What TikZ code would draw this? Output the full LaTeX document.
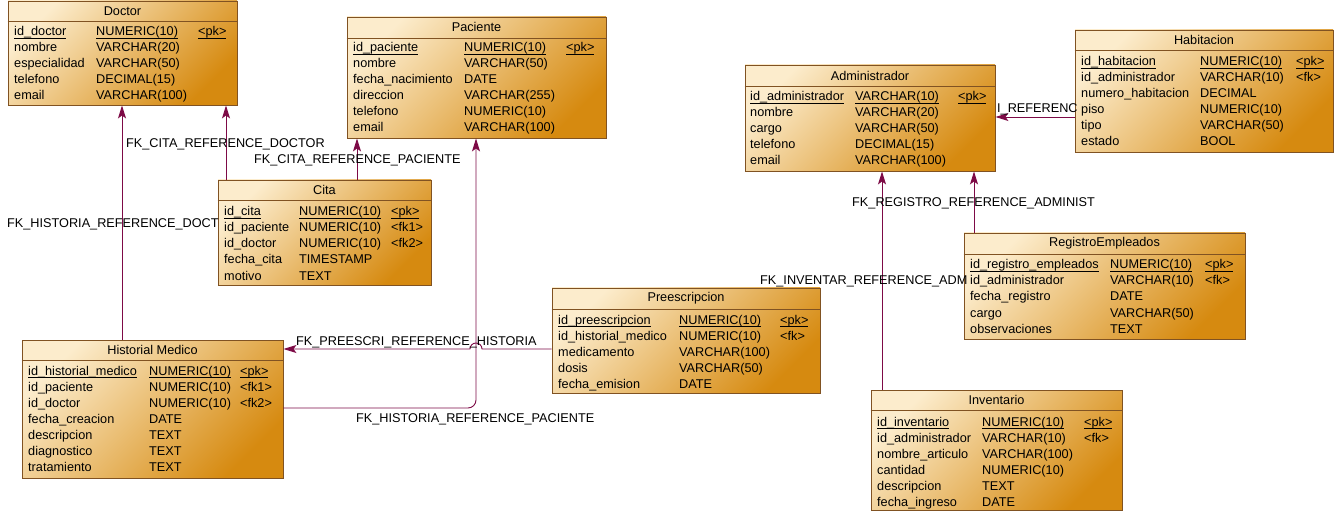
\documentclass[tikz,border=0pt]{standalone}
\usepackage{fontspec}
\setmainfont{Liberation Sans}
\usetikzlibrary{arrows.meta}

\definecolor{borde}{RGB}{128,82,34}
\definecolor{claro}{RGB}{252,236,204}
\definecolor{oscuro}{RGB}{214,138,16}
\definecolor{relacion}{RGB}{125,10,70}
\newcommand{\letra}{\fontsize{12.7}{15}\selectfont}
\newcommand{\subr}[1]{\setbox0=\hbox{#1}\rlap{\vrule width \wd0 height -1.6pt depth 2.5pt}\box0}

\tikzset{
  tabla/.style={draw=borde, line width=0.9pt, top color=claro, bottom color=oscuro, shading angle=45, inner sep=0pt},
  titulo/.style={inner sep=0pt, font=\letra},
  campo/.style={anchor=base west, inner sep=0pt, font=\letra},
  etiqueta/.style={anchor=base west, inner sep=0pt, font=\letra},
  fk/.style={draw=relacion, line width=0.9pt, -{Stealth[length=13pt,width=8pt,inset=3pt]}}
}

\begin{document}
\begin{tikzpicture}[x=1pt,y=-1pt]
    \useasboundingbox (0,0) rectangle (1334,513);

    % Draw the tables as shaded boxes
    \node[tabla, minimum width=229, minimum height=104] (doctor) at (122.5,53) {};
    \node[tabla, minimum width=259, minimum height=121] (paciente) at (476.5,77.5) {};
    \node[tabla, minimum width=213, minimum height=105] (cita) at (324.5,232.5) {};
    \node[tabla, minimum width=261, minimum height=138] (historial) at (152.5,409) {};
    \node[tabla, minimum width=268, minimum height=105] (preescripcion) at (686,340.5) {};
    \node[tabla, minimum width=250, minimum height=106] (administrador) at (870,118) {};
    \node[tabla, minimum width=258, minimum height=122] (habitacion) at (1204,91) {};
    \node[tabla, minimum width=281, minimum height=106] (registro) at (1104.5,286) {};
    \node[tabla, minimum width=251, minimum height=120] (inventario) at (996.5,450) {};

    % Draw the foreign key arrows
    \draw[fk] (226,0 |- cita.north) -- (226,0 |- doctor.south);
    \draw[fk] (357,0 |- cita.north) -- (357,0 |- paciente.south);
    \draw[fk] (122,0 |- historial.north) -- (122,0 |- doctor.south);
    \draw[fk, rounded corners=8pt] (historial.east |- 0,408) -- (476,408) -- (476,0 |- paciente.south);
    \draw[fk] (preescripcion.west |- 0,349) -- (482,349) arc[start angle=0, end angle=-180, radius=6] -- (historial.east |- 0,349);
    \draw[fk] (974,0 |- registro.north) -- (974,0 |- administrador.south);
    \draw[fk] (882,0 |- inventario.north) -- (882,0 |- administrador.south);
    \draw[fk] (habitacion.west |- 0,117) -- (administrador.east |- 0,117);

    % Label the references
    \node[etiqueta] (lcitadoc) at (126,148) {FK\_CITA\_REFERENCE\_DOCTOR};
    \node[etiqueta] (lcitapac) at (254,164) {FK\_CITA\_REFERENCE\_PACIENTE};
    \node[etiqueta] (lhistdoc) at (7,228) {FK\_HISTORIA\_REFERENCE\_DOCT};
    \node[etiqueta] (lpreshist) at (296,345) {FK\_PREESCRI\_REFERENCE\_HISTORIA};
    \node[etiqueta] (lhistpac) at (356,422) {FK\_HISTORIA\_REFERENCE\_PACIENTE};
    \node[etiqueta] (lregadm) at (852,207) {FK\_REGISTRO\_REFERENCE\_ADMINIST};
    \node[etiqueta] (linvadm) at (760,285) {FK\_INVENTAR\_REFERENCE\_ADM};
    \node[etiqueta] (lhabadm) at (997,113) {I\_REFERENC};

    % Doctor
    \node[titulo] (doctort) at (122.5,11) {Doctor};
    \draw[borde, line width=0.9pt] (doctor.west |- 0,21) -- (doctor.east |- 0,21);
    \node[campo] (doctor1) at (14,36) {\subr{id\_doctor}};
    \node[campo] (doctor2) at (96,36) {\subr{NUMERIC(10)}};
    \node[campo] (doctor3) at (198,36) {\subr{<pk>}};
    \foreach \y/\n/\t [count=\i] in {52/nombre/VARCHAR(20), 68/especialidad/VARCHAR(50), 84/telefono/DECIMAL(15), 100/email/VARCHAR(100)} {
        \node[campo] (doctorn\i) at (14,\y) {\n};
        \node[campo] (doctort\i) at (96,\y) {\t};
    }

    % Paciente
    \node[titulo] (paciente-t) at (476.5,27) {Paciente};
    \draw[borde, line width=0.9pt] (paciente.west |- 0,38) -- (paciente.east |- 0,38);
    \node[campo] (paciente1) at (353,52) {\subr{id\_paciente}};
    \node[campo] (paciente2) at (464,52) {\subr{NUMERIC(10)}};
    \node[campo] (paciente3) at (566,52) {\subr{<pk>}};
    \foreach \y/\n/\t [count=\i] in {68/nombre/VARCHAR(50), 84/fecha\_nacimiento/DATE, 100/direccion/VARCHAR(255), 116/telefono/NUMERIC(10), 132/email/VARCHAR(100)} {
        \node[campo] (pacienten\i) at (353,\y) {\n};
        \node[campo] (pacientet\i) at (464,\y) {\t};
    }

    % Cita
    \node[titulo] (cita-t) at (324.5,190) {Cita};
    \draw[borde, line width=0.9pt] (cita.west |- 0,200) -- (cita.east |- 0,200);
    \node[campo] (cita1) at (224,216) {\subr{id\_cita}};
    \node[campo] (cita2) at (299,216) {\subr{NUMERIC(10)}};
    \node[campo] (cita3) at (391,216) {\subr{<pk>}};
    \foreach \y/\n/\t/\k [count=\i] in {232/id\_paciente/NUMERIC(10)/<fk1>, 248/id\_doctor/NUMERIC(10)/<fk2>, 264/fecha\_cita/TIMESTAMP/, 280/motivo/TEXT/} {
        \node[campo] (citan\i) at (224,\y) {\n};
        \node[campo] (citat\i) at (299,\y) {\t};
        \node[campo] (citak\i) at (391,\y) {\k};
    }

    % Historial Medico
    \node[titulo] (historial-t) at (152.5,350) {Historial Medico};
    \draw[borde, line width=0.9pt] (historial.west |- 0,360) -- (historial.east |- 0,360);
    \node[campo] (historial1) at (28,375) {\subr{id\_historial\_medico}};
    \node[campo] (historial2) at (149,375) {\subr{NUMERIC(10)}};
    \node[campo] (historial3) at (240,375) {\subr{<pk>}};
    \foreach \y/\n/\t/\k [count=\i] in {391/id\_paciente/NUMERIC(10)/<fk1>, 407/id\_doctor/NUMERIC(10)/<fk2>, 423/fecha\_creacion/DATE/, 439/descripcion/TEXT/, 455/diagnostico/TEXT/, 471/tratamiento/TEXT/} {
        \node[campo] (historialn\i) at (28,\y) {\n};
        \node[campo] (historialt\i) at (149,\y) {\t};
        \node[campo] (historialk\i) at (240,\y) {\k};
    }

    % Preescripcion
    \node[titulo] (preescripcion-t) at (686,298) {Preescripcion};
    \draw[borde, line width=0.9pt] (preescripcion.west |- 0,309) -- (preescripcion.east |- 0,309);
    \node[campo] (preescripcion1) at (558,324) {\subr{id\_preescripcion}};
    \node[campo] (preescripcion2) at (679,324) {\subr{NUMERIC(10)}};
    \node[campo] (preescripcion3) at (780,324) {\subr{<pk>}};
    \foreach \y/\n/\t/\k [count=\i] in {340/id\_historial\_medico/NUMERIC(10)/<fk>, 356/medicamento/VARCHAR(100)/, 372/dosis/VARCHAR(50)/, 388/fecha\_emision/DATE/} {
        \node[campo] (preescripcionn\i) at (558,\y) {\n};
        \node[campo] (preescripciont\i) at (679,\y) {\t};
        \node[campo] (preescripcionk\i) at (780,\y) {\k};
    }

    % Administrador
    \node[titulo] (administrador-t) at (870,76) {Administrador};
    \draw[borde, line width=0.9pt] (administrador.west |- 0,86) -- (administrador.east |- 0,86);
    \node[campo] (administrador1) at (750,101) {\subr{id\_administrador}};
    \node[campo] (administrador2) at (855,101) {\subr{VARCHAR(10)}};
    \node[campo] (administrador3) at (958,101) {\subr{<pk>}};
    \foreach \y/\n/\t [count=\i] in {117/nombre/VARCHAR(20), 133/cargo/VARCHAR(50), 149/telefono/DECIMAL(15), 165/email/VARCHAR(100)} {
        \node[campo] (administradorn\i) at (750,\y) {\n};
        \node[campo] (administradort\i) at (855,\y) {\t};
    }

    % Habitacion
    \node[titulo] (habitacion-t) at (1204,40) {Habitacion};
    \draw[borde, line width=0.9pt] (habitacion.west |- 0,50) -- (habitacion.east |- 0,50);
    \node[campo] (habitacion1) at (1081,66) {\subr{id\_habitacion}};
    \node[campo] (habitacion2) at (1200,66) {\subr{NUMERIC(10)}};
    \node[campo] (habitacion3) at (1296,66) {\subr{<pk>}};
    \foreach \y/\n/\t/\k [count=\i] in {82/id\_administrador/VARCHAR(10)/<fk>, 98/numero\_habitacion/DECIMAL/, 114/piso/NUMERIC(10)/, 130/tipo/VARCHAR(50)/, 146/estado/BOOL/} {
        \node[campo] (habitacionn\i) at (1081,\y) {\n};
        \node[campo] (habitaciont\i) at (1200,\y) {\t};
        \node[campo] (habitacionk\i) at (1296,\y) {\k};
    }

    % RegistroEmpleados
    \node[titulo] (registro-t) at (1104.5,243) {RegistroEmpleados};
    \draw[borde, line width=0.9pt] (registro.west |- 0,254) -- (registro.east |- 0,254);
    \node[campo] (registro1) at (970,269) {\subr{id\_registro\_empleados}};
    \node[campo] (registro2) at (1110,269) {\subr{NUMERIC(10)}};
    \node[campo] (registro3) at (1205,269) {\subr{<pk>}};
    \foreach \y/\n/\t/\k [count=\i] in {285/id\_administrador/VARCHAR(10)/<fk>, 301/fecha\_registro/DATE/, 317/cargo/VARCHAR(50)/, 333/observaciones/TEXT/} {
        \node[campo] (registron\i) at (970,\y) {\n};
        \node[campo] (registrot\i) at (1110,\y) {\t};
        \node[campo] (registrok\i) at (1205,\y) {\k};
    }

    % Inventario
    \node[titulo] (inventario-t) at (996.5,400) {Inventario};
    \draw[borde, line width=0.9pt] (inventario.west |- 0,410) -- (inventario.east |- 0,410);
    \node[campo] (inventario1) at (877,426) {\subr{id\_inventario}};
    \node[campo] (inventario2) at (982,426) {\subr{NUMERIC(10)}};
    \node[campo] (inventario3) at (1084,426) {\subr{<pk>}};
    \foreach \y/\n/\t/\k [count=\i] in {442/id\_administrador/VARCHAR(10)/<fk>, 458/nombre\_articulo/VARCHAR(100)/, 474/cantidad/NUMERIC(10)/, 490/descripcion/TEXT/, 506/fecha\_ingreso/DATE/} {
        \node[campo] (inventarion\i) at (877,\y) {\n};
        \node[campo] (inventariot\i) at (982,\y) {\t};
        \node[campo] (inventariok\i) at (1084,\y) {\k};
    }
\end{tikzpicture}
\end{document}
